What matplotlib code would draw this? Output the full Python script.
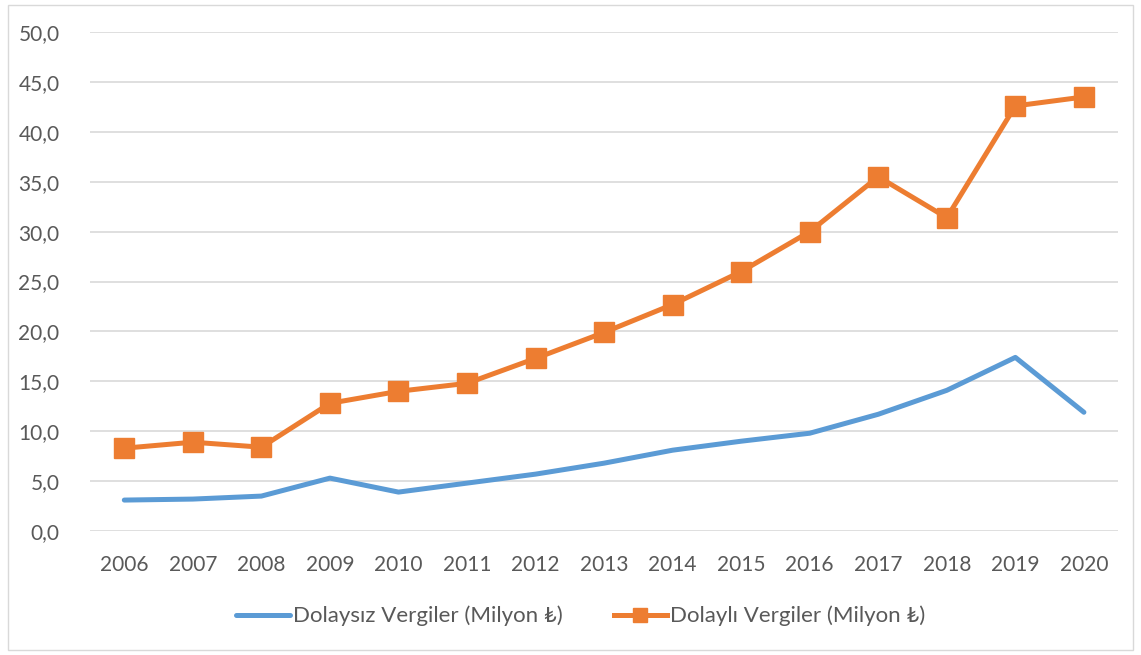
import matplotlib
matplotlib.use("Agg")
import matplotlib.pyplot as plt
from matplotlib.patches import Rectangle

years = ["2006", "2007", "2008", "2009", "2010", "2011", "2012", "2013",
         "2014", "2015", "2016", "2017", "2018", "2019", "2020"]
dolaysiz = [3.1, 3.2, 3.5, 5.3, 3.9, 4.8, 5.7, 6.8, 8.1, 9.0, 9.8, 11.7, 14.1, 17.4, 11.9]
dolayli = [8.3, 8.9, 8.4, 12.8, 14.0, 14.8, 17.3, 19.9, 22.7, 26.0, 30.0, 35.5, 31.4, 42.6, 43.5]
series_names = ["Dolaysız Vergiler (Milyon ₺)", "Dolaylı Vergiler (Milyon ₺)"]
yticks = [0, 5, 10, 15, 20, 25, 30, 35, 40, 45, 50]

plt.rcParams['font.family'] = ['Lato', 'DejaVu Sans']
text_color = "#595959"

fig = plt.figure(figsize=(11.41, 6.55), dpi=100)
ax = fig.add_axes([0.0789, 0.1893, 0.9011, 0.7617])

x = list(range(len(years)))
ax.plot(x, dolaysiz, color="#5B9BD5", lw=3.6, solid_capstyle="round",
        solid_joinstyle="round", label=series_names[0], zorder=3)
ax.plot(x, dolayli, color="#ED7D31", lw=3.6, marker="s", markersize=14,
        solid_joinstyle="round", label=series_names[1], zorder=3)

ax.set_xlim(-0.5, len(years) - 0.5)
ax.set_ylim(0, 50)
ax.set_yticks(yticks)
ax.set_yticklabels([f"{v:.1f}".replace(".", ",") for v in yticks])
ax.set_xticks(x)
ax.set_xticklabels(years)
ax.tick_params(axis="both", length=0, labelsize=15, colors=text_color)
ax.tick_params(axis="y", pad=22)
ax.tick_params(axis="x", pad=17)
ax.grid(axis="y", color="#d9d9d9", lw=1.2)
ax.set_axisbelow(True)
for s in ax.spines.values():
    s.set_visible(False)

leg = fig.legend(loc="center", bbox_to_anchor=(581 / 1141, 1 - 616 / 655), ncol=2,
                 frameon=False, fontsize=16, handlelength=2.4, handletextpad=0.15,
                 columnspacing=2.3, markerscale=0.75)
for t in leg.get_texts():
    t.set_color(text_color)

fig.patches.append(Rectangle((8 / 1141, 5 / 655), 1125 / 1141, 645 / 655,
                             transform=fig.transFigure, fill=False,
                             edgecolor="#d9d9d9", lw=1))

fig.savefig("out.png", dpi=100)
